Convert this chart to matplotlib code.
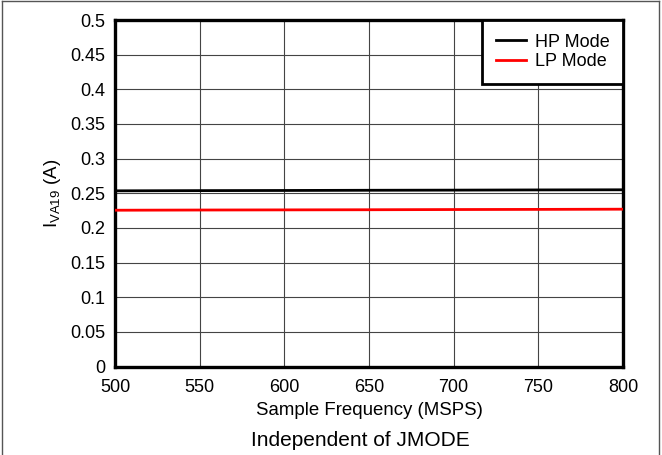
import matplotlib
matplotlib.use("Agg")
import matplotlib.pyplot as plt
from matplotlib.lines import Line2D

plt.rcParams['font.family'] = ['Liberation Sans', 'DejaVu Sans']

freq = [500, 550, 600, 650, 700, 750, 800]
hp_mode = [0.2535, 0.2538, 0.254, 0.2543, 0.2545, 0.2548, 0.255]
lp_mode = [0.2255, 0.2258, 0.226, 0.2262, 0.2265, 0.2267, 0.227]
xticks = [500, 550, 600, 650, 700, 750, 800]
yticks = [0, 0.05, 0.1, 0.15, 0.2, 0.25, 0.3, 0.35, 0.4, 0.45, 0.5]
ytick_labels = ['0', '0.05', '0.1', '0.15', '0.2', '0.25', '0.3', '0.35', '0.4', '0.45', '0.5']

fig = plt.figure(figsize=(6.62, 4.55), dpi=100)
ax = fig.add_axes([115/662, (455-366.5)/455, 508/662, 346.5/455])

ax.plot(freq, hp_mode, color='black', lw=2, label='HP Mode', zorder=3)
ax.plot(freq, lp_mode, color='#ff0000', lw=2, label='LP Mode', zorder=3)

ax.set_xlim(500, 800)
ax.set_ylim(0, 0.5)
ax.set_xticks(xticks)
ax.set_yticks(yticks)
ax.set_yticklabels(ytick_labels)
ax.tick_params(axis='x', length=0, labelsize=13, pad=9)
ax.tick_params(axis='y', length=0, labelsize=13, pad=7)
ax.grid(True, color='#444444', lw=0.8)
for s in ax.spines.values():
    s.set_linewidth(2.4)
    s.set_color('black')

ax.set_xlabel('Sample Frequency (MSPS)', fontsize=13.4, labelpad=4)
ax.set_ylabel(r'I$_{\mathregular{VA19}}$ (A)', fontsize=13.5, labelpad=5)

leg = ax.legend(loc='upper right', fontsize=13, frameon=True, fancybox=False,
                borderaxespad=0, handlelength=1.65, borderpad=0.75, labelspacing=0.15,
                handletextpad=0.5)
leg.get_frame().set_edgecolor('black')
leg.get_frame().set_linewidth(2.0)
leg.get_frame().set_alpha(1)

fig.text(360/662, 1 - 441/455, 'Independent of JMODE', ha='center', va='center', fontsize=15)

# outer frame
fig.add_artist(Line2D([2/662, 2/662], [0, 1 - 1/455], transform=fig.transFigure, color='#555555', lw=1))
fig.add_artist(Line2D([659/662, 659/662], [0, 1 - 1/455], transform=fig.transFigure, color='#555555', lw=1))
fig.add_artist(Line2D([2/662, 659/662], [1 - 1/455, 1 - 1/455], transform=fig.transFigure, color='#555555', lw=1))

fig.savefig('out.png', dpi=100)
